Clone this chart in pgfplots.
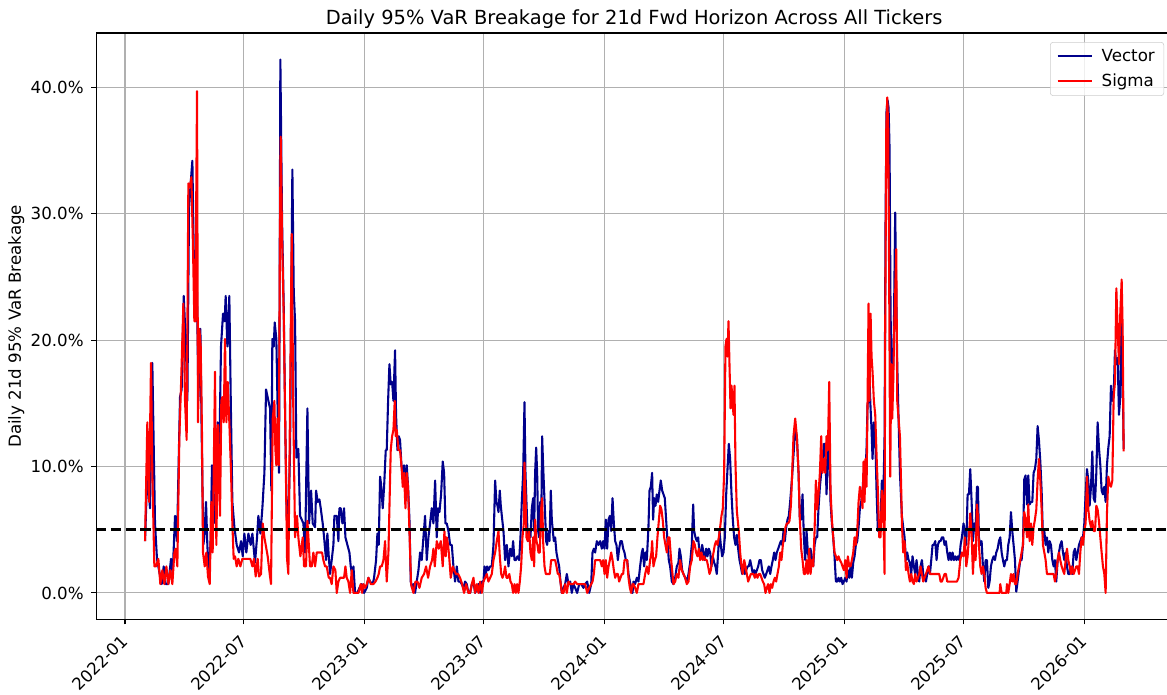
\documentclass[border=0pt]{standalone}
\usepackage{fontspec}
\setmainfont{DejaVu Sans}
\usepackage{pgfplots}
\pgfplotsset{compat=1.18}
\definecolor{gridgray}{RGB}{176,176,176}
\definecolor{vecblue}{RGB}{0,0,139}
\definecolor{leggray}{RGB}{204,204,204}
\begin{document}
\begin{tikzpicture}
\begin{axis}[
 name=main,
 scale only axis,
 width=774.8pt, height=422.3pt,
 xmin=-44, xmax=1595,
 ymin=-2.11, ymax=44.3,
 xtick={0,181,365,546,730,912,1096,1277,1461},
 xticklabels={2022-01,2022-07,2023-01,2023-07,2024-01,2024-07,2025-01,2025-07,2026-01},
 ytick={0,10,20,30,40},
 yticklabels={0.0\%,10.0\%,20.0\%,30.0\%,40.0\%},
 grid=major,
 major grid style={gridgray, line width=0.8pt},
 axis line style={line width=0.8pt},
 tick align=outside, tick pos=left,
 major tick length=3.5pt,
 every tick/.style={black, line width=0.8pt},
 tick label style={font=\fontsize{12}{14}\selectfont},
 xticklabel style={xshift=-3.5pt, yshift=-6.5pt, rotate=45, anchor=north east, inner sep=0pt},
 yticklabel style={xshift=-5.3pt, anchor=east, inner sep=0pt},
 title={Daily 95\% VaR Breakage for 21d Fwd Horizon Across All Tickers},
 title style={font=\fontsize{14}{17}\selectfont, at={(axis description cs:0.5,1)}, anchor=base},
 ylabel={Daily 21d 95\% VaR Breakage},
 every axis y label/.style={at={(axis description cs:-0.0743,0.5)}, rotate=90, anchor=center, font=\fontsize{12}{14}\selectfont},
 legend style={at={(axis description cs:0.9924,0.9847)}, anchor=north east, draw=leggray, fill=white, fill opacity=0.8, text opacity=1, rounded corners=2pt, font=\fontsize{12}{14}\selectfont, inner xsep=4.5pt, inner ysep=3pt, row sep=3.5pt},
 legend cell align=left,
 legend image code/.code={\draw[#1, line width=1.5pt] (0pt,0pt) -- (25pt,0pt); \path (29pt,0pt);},
]
\addplot[vecblue, line width=1.5pt, line join=round] coordinates {
(30.5,4.1)(34.0,9.5)(38.1,6.7)(41.6,18.2)(45.7,5.5)(48.7,2.7)(51.8,1.8)(55.9,0.7)(58.9,2.1)(62.0,0.7)(66.0,0.7)(70.1,2.7)(72.6,1.5)(76.2,6.1)(79.2,4.1)(83.8,15.5)(86.3,16.1)(89.4,23.5)(92.4,20.1)(95.0,15.2)(97.5,30.4)(100.0,32.4)(102.6,34.2)(104.6,27.2)(107.6,21.5)(109.7,23.8)(111.7,15.2)(114.8,20.9)(116.8,12.4)(119.3,3.8)(120.8,4.4)(123.4,7.2)(125.4,3.8)(128.0,1.2)(130.5,4.4)(132.5,10.1)(135.1,5.5)(138.1,8.4)(141.2,13.5)(143.2,9.5)(146.2,19.5)(149.3,22.1)(151.8,21.5)(153.3,23.5)(155.9,19.5)(158.9,23.5)(161.0,15.5)(163.5,7.2)(166.6,5.2)(170.1,3.8)(173.7,3.2)(176.7,4.1)(179.3,2.9)(181.8,4.7)(184.8,3.2)(187.9,4.7)(191.4,3.8)(194.0,4.7)(198.0,2.4)(201.1,4.4)(203.1,6.1)(206.2,4.7)(209.2,6.7)(212.3,9.5)(214.8,16.1)(218.4,15.2)(220.9,14.6)(222.9,8.1)(224.4,20.1)(226.5,19.5)(228.0,21.4)(230.5,20.1)(232.6,14.1)(234.6,9.5)(236.6,42.2)(239.2,29.5)(241.7,22.7)(244.3,12.4)(246.3,6.1)(248.8,5.2)(251.4,11.4)(252.9,21.5)(254.9,33.5)(257.0,23.8)(259.0,21.5)(261.0,10.7)(264.0,11.4)(266.6,6.1)
(271.7,5.5)(274.2,3.2)(277.8,14.6)(280.3,5.5)(283.4,8.1)(285.9,5.5)(289.5,5.2)(291.0,8.1)(293.5,7.2)(296.1,7.4)(298.1,6.7)(301.1,5.5)(303.2,4.4)(306.2,2.6)(308.2,4.7)(310.3,2.9)(312.3,1.5)(314.8,2.6)(317.4,3.8)(318.9,6.1)(322.5,6.1)(325.0,4.1)(326.5,6.7)(328.5,6.7)(331.1,5.5)(333.6,6.7)(335.7,4.4)(338.7,3.8)(341.8,3.2)(343.8,2.1)(345.8,1.5)(347.9,2.1)(350.4,0)(353.9,0)(357.0,0.4)(360.5,0.7)(364.1,0)(368.2,0.4)(370.7,1.2)(373.2,0.9)(377.3,0.7)(379.3,1.2)(382.4,2.6)(384.4,4.7)(386.4,3.8)(388.5,9.2)(390.0,8.6)(392.5,6.7)(394.6,8.4)(397.1,11.3)(398.6,11.3)(400.7,15.2)(402.7,18.1)(404.7,16.5)(406.8,16.7)(408.8,15.2)(411.3,19.2)(412.8,14.1)(414.9,11.3)(416.9,12.4)(418.9,12.1)(421.0,10.1)(423.0,9.5)(425.0,10.1)(427.1,8.4)(429.1,10.1)(431.1,8.4)(433.2,5.8)(435.2,0.9)(437.2,0.4)(439.2,0.7)(441.8,0)(444.3,0.9)(446.9,1.8)(449.4,3.2)(451.9,2.6)(454.5,4.4)(457.0,6.1)(459.6,2.6)(462.1,4.4)(464.6,5.5)(467.2,6.7)(469.7,5.5)(472.3,8.9)(474.8,4.4)(476.8,6.7)(478.9,6.4)(481.4,7.8)(483.9,10.4)(486.0,9.5)(488.0,5.5)(490.0,5.5)(492.6,4.9)(495.1,3.8)(497.7,3.8)(500.2,2.1)(502.7,0.9)(505.3,2.1)(507.8,0.9)(510.3,0.9)(512.9,0.7)(515.4,0.4)(518.0,0.9)(520.5,0.7)(523.0,0)
(525.6,0)(528.2,0.7)(530.7,0.9)(533.2,0)(535.8,0.4)(538.3,0.7)(540.9,0)(543.4,0.9)(545.9,0.9)(547.5,2.1)(549.5,1.5)(551.5,2.1)(553.5,1.8)(556.1,2.1)(558.6,2.1)(561.2,3.8)(563.7,8.9)(565.7,7.2)(567.3,6.9)(568.8,6.4)(570.8,8.1)(572.3,6.9)(573.9,6.1)(576.4,4.9)(578.9,2.6)(581.5,3.8)(584.0,2.1)(586.6,3.5)(589.1,2.9)(591.1,4.1)(593.2,2.6)(595.2,2.6)(597.7,2.9)(600.3,2.6)(602.3,4.4)(604.3,7.2)(606.4,9.5)(608.4,15.1)(609.9,9.5)(611.4,7.2)(613.5,4.1)(615.5,4.9)(617.5,4.4)(619.6,6.7)(621.6,7.5)(623.1,4.9)(624.6,9.5)(626.2,11.5)(627.7,9.5)(629.2,4.9)(630.7,4.4)(632.3,7.2)(633.8,4.9)(635.3,12.4)(636.8,10.1)(638.3,8.1)(639.9,6.1)(641.4,4.1)(642.9,3.8)(645.0,4.9)(646.5,4.1)(648.5,8.1)(650.0,5.8)(651.6,4.9)(653.1,4.1)(655.1,4.4)(657.1,3.2)(659.2,2.6)(661.2,2.1)(663.2,0.9)(665.3,0)(667.8,0.4)(670.3,0.7)(672.9,1.5)(675.4,0.7)(678.0,0.9)(680.5,0)(683.0,0.7)(685.6,0.4)(688.6,0)(691.7,0.7)(694.7,0.7)(698.3,0.4)(700.8,0.7)(703.9,0.9)(706.9,0)(710.0,0.7)(712.0,3.2)(714.0,3.5)(716.0,3.2)(718.6,4.1)(721.1,3.8)(723.7,4.1)(726.2,3.5)(728.2,4.1)(730.3,3.5)(732.3,5.8)(734.3,3.5)(736.4,5.8)(738.4,6.1)(740.4,4.9)(742.5,7.5)(744.5,5.5)(746.5,4.1)(748.5,3.8)(750.6,2.6)(752.6,3.5)(754.6,4.1)(756.7,4.1)(758.7,3.5)(760.7,3.2)(762.8,2.6)(764.8,2.6)(766.8,1.5)(768.9,0.9)(770.9,0.4)(772.9,0)
(774.4,0.9)(776.9,0.7)(779.5,1.2)(782.0,0.9)(784.5,2.1)(787.1,3.2)(788.6,3.5)(790.6,2.1)(792.7,3.2)(794.7,2.6)(797.2,5.2)(798.8,8.1)(800.8,8.4)(802.8,9.5)(804.3,5.8)(805.9,7.5)(807.9,6.9)(809.9,7.8)(812.0,7.2)(814.0,8.1)(816.0,8.9)(818.1,8.1)(820.1,7.8)(822.1,7.5)(824.1,5.8)(826.2,4.1)(828.2,2.6)(830.2,2.1)(832.8,0.9)(835.3,0.7)(837.9,1.2)(840.4,2.1)(842.9,2.4)(844.5,3.5)(846.5,2.9)(848.5,1.8)(850.5,1.5)(853.1,1.2)(855.6,0.9)(858.2,1.5)(860.7,2.4)(863.2,3.8)(865.3,7.0)(866.8,4.9)(868.8,4.4)(870.9,4.1)(872.9,4.4)(874.9,3.2)(876.9,2.9)(879.0,3.8)(881.0,3.2)(883.0,2.6)(885.1,3.5)(887.1,2.9)(889.1,3.5)(891.2,3.2)(893.2,2.1)(895.2,2.9)(897.3,2.4)(899.3,2.1)(901.3,1.5)(903.4,3.2)(905.4,4.9)(907.4,3.8)(909.4,2.9)(911.5,3.2)(913.5,4.4)(915.6,7.8)(917.6,9.8)(919.6,11.8)(921.6,10.6)(923.7,7.8)(925.7,5.8)(927.7,4.4)(929.8,3.8)(931.8,4.6)(933.8,3.5)(935.9,2.6)(937.9,2.1)(939.9,1.5)(942.0,2.1)(944.0,1.5)(946.0,1.8)(948.1,2.1)(950.1,2.1)(952.1,2.6)(954.1,2.1)(956.2,1.5)(958.2,1.8)(960.2,1.5)(962.3,1.8)(964.3,2.1)(966.3,2.6)(968.4,2.6)(970.4,1.8)(972.4,1.5)(974.5,1.2)(976.5,1.5)(978.5,1.8)(980.5,2.1)(982.6,1.5)(984.6,2.1)(986.6,2.6)(988.7,3.2)(990.7,2.6)(992.7,3.2)(994.8,3.5)(996.8,3.8)(998.8,4.1)(1000.9,3.8)(1002.9,4.9)(1004.9,4.1)(1007.0,5.2)(1009.0,5.8)(1011.0,6.1)(1013.0,7.2)(1015.6,8.9)(1018.1,10.9)(1020.7,12.9)
(1023.2,12.4)(1025.8,9.5)(1027.8,5.8)(1029.8,5.8)(1031.9,7.8)(1033.9,4.4)(1035.9,2.6)(1038.0,4.9)(1040.0,3.2)(1042.0,2.6)(1044.1,3.5)(1046.1,2.6)(1048.1,2.1)(1050.2,3.8)(1052.2,4.4)(1054.2,4.4)(1056.2,6.7)(1058.3,8.4)(1060.3,9.5)(1062.3,10.1)(1064.4,11.8)(1066.4,11.8)(1068.4,7.8)(1070.5,10.7)(1072.5,12.4)(1074.5,7.2)(1076.6,5.5)(1078.6,4.4)(1080.6,2.9)(1082.7,0.9)(1084.7,0.9)(1086.7,1.2)(1088.7,0.9)(1090.8,1.2)(1092.8,0.7)(1094.8,0.9)(1096.9,1.2)(1098.9,0.9)(1100.9,1.8)(1103.0,1.2)(1105.0,2.1)(1107.0,1.2)(1109.1,2.4)(1111.1,2.9)(1113.1,3.8)(1115.2,4.1)(1117.2,5.2)(1119.2,6.7)(1121.2,7.2)(1123.3,8.1)(1124.8,9.5)(1126.3,8.4)(1127.8,9.5)(1129.4,11.5)(1130.9,14.9)(1132.4,15.2)(1133.9,16.7)(1135.5,14.6)(1137.0,12.9)(1138.5,10.6)(1140.5,13.5)(1142.6,12.4)(1144.6,8.1)(1146.6,4.9)(1148.7,4.9)(1150.7,5.7)(1152.7,8.9)(1154.8,7.2)(1156.8,12.4)(1158.3,29.5)(1159.8,38.1)(1161.4,39.0)(1162.9,38.4)(1164.4,35.2)(1165.9,22.4)(1167.5,16.7)(1169.0,15.2)(1171.0,20.9)(1173.0,30.1)(1174.6,23.8)(1176.1,18.1)(1178.1,13.8)(1180.2,9.5)(1182.2,7.2)(1183.2,6.1)(1185.2,5.2)(1187.3,4.4)(1189.3,2.6)(1191.3,3.2)(1193.4,2.6)(1195.4,2.4)(1197.4,1.5)(1199.4,2.9)(1201.5,2.1)(1203.5,1.5)(1205.5,2.6)(1207.6,1.5)(1209.6,0.9)(1211.6,2.1)(1213.7,2.6)(1215.7,1.5)(1217.7,1.2)(1219.8,0.9)(1221.8,1.5)(1223.8,2.1)(1225.9,1.5)(1227.9,2.6)(1229.9,3.8)(1231.9,3.8)(1234.0,4.1)(1236.0,2.6)(1238.0,3.8)(1240.1,4.1)(1242.1,4.1)(1244.1,4.4)(1246.2,4.4)(1248.2,3.8)(1250.2,4.1)(1252.3,3.2)(1254.3,2.6)(1256.3,3.2)(1258.4,2.6)(1260.4,3.2)(1262.4,2.6)(1264.5,2.9)(1266.5,2.6)(1268.5,2.9)(1270.5,2.6)(1272.6,3.8)(1274.6,4.4)(1277.1,5.5)
(1281.2,3.8)(1283.3,7.8)(1285.3,7.8)(1287.3,9.8)(1289.4,7.2)(1291.4,4.1)(1293.4,5.5)(1295.5,4.9)(1297.5,8.4)(1299.0,8.4)(1300.5,4.4)(1302.6,3.8)(1304.6,4.1)(1306.6,2.1)(1308.7,0.9)(1310.7,2.6)(1312.7,2.6)(1314.8,0.4)(1316.8,0.9)(1318.8,2.1)(1320.8,2.6)(1322.9,2.9)(1324.9,2.6)(1326.9,3.2)(1329.0,3.5)(1331.0,4.1)(1333.0,4.4)(1335.1,3.2)(1337.1,2.6)(1339.1,2.1)(1341.2,2.6)(1343.2,2.6)(1345.2,3.8)(1347.3,4.4)(1349.3,6.4)(1351.3,4.9)(1353.3,3.8)(1355.4,2.6)(1357.4,0.1)(1359.4,0.9)(1361.5,1.8)(1363.5,2.6)(1365.5,2.6)(1367.6,3.8)(1369.6,9.0)(1371.6,9.3)(1373.7,7.0)(1375.7,9.3)(1377.7,7.0)(1379.8,7.2)(1381.8,7.2)(1383.8,9.5)(1385.8,9.8)(1387.9,10.6)(1389.9,13.2)(1391.9,12.1)(1394.0,10.4)(1396.0,8.1)(1398.0,4.4)(1400.1,4.9)(1402.1,3.8)(1404.1,4.4)(1406.2,3.2)(1408.2,4.1)(1410.2,3.8)(1412.3,2.6)(1414.3,2.1)(1416.3,2.6)(1418.3,0.9)(1420.4,2.6)(1422.4,3.2)(1424.4,3.8)(1426.5,4.1)(1428.5,3.2)(1430.5,2.6)(1432.6,3.2)(1434.6,2.1)(1436.6,1.5)(1438.7,1.5)(1440.7,2.1)(1442.7,1.5)(1444.8,3.2)(1446.8,3.5)(1448.8,2.6)(1450.9,3.2)(1452.9,3.8)(1454.9,4.1)(1456.9,4.4)(1459.0,4.4)(1461.0,5.5)(1463.0,7.8)(1465.1,9.8)(1467.1,8.9)(1469.1,6.9)(1471.2,8.4)(1473.2,11.2)(1475.2,7.5)(1477.3,7.2)(1479.3,9.5)(1481.3,13.5)(1483.3,11.5)(1485.4,10.1)(1487.4,8.1)(1489.4,7.8)(1491.5,8.4)(1493.5,7.2)(1495.5,10.1)(1497.6,11.5)(1499.6,12.4)(1501.6,16.4)(1503.7,15.2)(1505.7,15.5)(1507.7,19.2)(1509.8,18.1)(1511.8,18.6)(1513.8,14.1)(1515.8,15.5)(1517.9,22.7)(1519.4,18.1)(1520.9,11.4)
};
\addlegendentry{Vector}
\addplot[red, line width=1.5pt, line join=round] coordinates {
(30.5,4.1)(34.0,13.5)(36.6,7.2)(39.6,18.2)(41.6,9.5)(44.7,2.1)(47.2,2.1)(50.8,2.7)(53.8,0.7)(56.9,1.8)(59.9,0.7)(63.0,2.1)(66.0,0.7)(69.1,1.8)(72.1,0.7)(75.2,3.2)(77.2,3.5)(79.7,2.1)(82.8,12.4)(85.3,16.4)(88.9,22.9)(91.4,15.2)(93.9,12.1)(96.5,32.4)(99.0,32.1)(101.1,32.9)(103.6,27.2)(105.6,21.5)(107.1,21.5)(109.7,39.7)(111.2,13.5)(113.2,20.9)(115.3,19.5)(117.3,12.4)(118.8,3.2)(121.4,2.1)(123.9,3.2)(126.4,1.3)(129.0,0.7)(131.5,7.2)(133.5,3.2)(137.1,17.5)(139.1,3.8)(141.7,13.3)(144.7,6.1)(146.7,15.2)(148.3,15.5)(150.3,13.5)(152.3,20.1)(154.4,13.5)(156.4,16.7)(158.9,13.5)(161.5,9.5)(163.5,5.5)(165.5,2.7)(167.6,2.9)(170.1,2.1)(172.6,2.7)(175.7,2.1)(178.7,2.7)(182.8,2.7)(186.9,2.7)(190.9,2.7)(194.0,2.1)(196.5,2.7)(199.0,1.3)(202.1,2.7)(204.1,1.3)(207.2,1.5)(209.7,5.5)(212.3,4.4)(214.3,3.8)(217.3,2.9)(220.4,1.5)(222.4,0.7)(225.0,13.8)(227.5,15.2)(229.0,11.4)(230.5,10.1)(232.1,13.8)(234.1,10.1)(236.1,29.5)(237.1,36.1)(239.2,28.1)(241.7,22.1)(244.3,12.4)(246.8,2.7)(248.8,1.5)(251.4,15.2)(253.9,28.4)(256.4,14.1)(259.0,4.4)(262.0,6.1)(264.0,4.4)(267.1,2.9)
(270.7,4.4)(272.7,2.1)(275.7,2.1)(277.8,5.7)(279.3,4.4)(281.8,2.1)(284.4,2.1)(286.9,3.2)(289.5,2.1)(292.0,3.2)(294.5,3.2)(297.1,3.2)(300.1,3.2)(302.1,2.6)(304.7,2.1)(307.2,2.1)(310.3,1.2)(312.3,1.2)(314.8,0.7)(317.4,2.1)(320.4,1.8)(322.5,0)(325.0,0.9)(327.5,1.2)(330.6,1.2)(333.6,1.2)(335.7,2.1)(337.7,1.2)(340.2,0.9)(342.8,0)(345.3,1.8)(347.9,0)(351.9,0)(355.5,0)(359.0,0.7)(361.1,0)(363.1,0.7)(365.6,0.4)(368.2,0.7)(370.7,1.2)(374.3,0.7)(378.3,0.7)(381.4,0.9)(384.4,1.2)(386.4,1.5)(388.5,2.1)(391.0,2.1)(393.6,2.6)(396.1,4.1)(398.6,0.9)(401.2,3.2)(402.7,6.7)(404.7,11.3)(406.8,12.4)(408.8,12.9)(410.8,15.2)(412.3,12.4)(413.9,12.9)(416.4,11.3)(418.9,11.3)(421.0,10.1)(423.0,8.4)(425.0,9.5)(427.1,6.7)(429.1,9.5)(431.1,8.4)(433.2,4.9)(435.7,0.7)(439.2,0)(442.3,0.9)(445.4,0.9)(448.4,0.4)(451.9,1.2)(455.5,1.5)(458.5,2.1)(461.6,1.2)(464.6,2.1)(467.7,2.6)(469.7,3.5)(471.8,2.1)(474.8,4.1)(477.8,3.5)(480.9,4.1)(483.9,2.1)(486.5,4.9)(488.5,2.9)(490.0,4.4)(492.1,3.8)(494.1,2.6)(496.1,1.2)(499.2,2.1)(501.2,1.8)(504.3,1.5)(507.3,1.5)(510.3,1.2)(513.4,0.7)(516.4,0)(519.5,0.7)(523.0,0)
(525.6,0)(528.2,0.7)(530.7,1.2)(533.2,0)(535.8,0.7)(538.3,0)(540.9,0.9)(543.4,0)(545.9,0.9)(548.5,1.2)(551.0,1.5)(553.5,0.9)(556.1,1.2)(558.6,1.5)(561.2,2.6)(563.7,3.2)(566.2,4.1)(568.8,4.9)(570.8,2.9)(572.9,1.5)(574.9,1.2)(576.9,1.5)(578.9,2.1)(581.0,1.2)(583.0,1.2)(585.3,1.5)(587.1,0.9)(589.1,0.7)(591.1,0)(593.2,0.7)(595.2,0)(597.2,0.7)(599.2,0)(601.3,0.9)(603.3,2.1)(605.3,4.4)(607.4,5.5)(608.4,10.3)(609.9,7.8)(611.4,4.4)(613.5,4.1)(615.5,4.9)(617.5,3.2)(619.6,2.6)(621.6,4.4)(623.1,2.1)(624.6,5.8)(626.7,4.1)(628.2,3.8)(629.7,3.2)(631.7,3.2)(633.8,6.7)(635.3,7.5)(636.8,4.1)(638.9,2.1)(640.9,1.5)(642.9,1.5)(645.0,1.5)(647.0,1.5)(649.0,2.6)(651.0,2.6)(653.1,2.6)(655.1,2.6)(657.1,2.1)(659.2,1.5)(661.2,1.5)(663.2,0.9)(665.3,0)(667.8,0)(670.3,0.7)(672.9,0)(675.4,0.9)(678.0,0.7)(680.5,0.7)(683.0,0.7)(685.6,0.9)(688.6,0.7)(691.7,0.7)(694.7,0.7)(698.3,0.7)(700.8,0.7)(703.9,0)(706.9,0.4)(710.0,0.7)(712.0,0.9)(714.0,1.5)(716.0,2.6)(718.6,2.6)(721.1,2.6)(723.7,2.6)(726.2,2.1)(728.2,2.6)(730.3,1.5)(732.3,2.6)(734.3,1.2)(736.4,2.1)(738.4,2.6)(740.4,3.2)(742.5,2.6)(744.5,1.8)(746.5,1.2)(748.5,1.5)(750.6,1.5)(752.6,0.9)(754.6,1.2)(756.7,1.5)(758.7,1.5)(760.7,2.6)(762.8,2.6)(764.8,2.6)(766.8,1.2)(768.9,0.4)(770.9,0)(772.9,0.7)
(774.4,0.7)(776.9,0.4)(779.5,0)(782.0,0.7)(784.5,0.7)(787.1,0.7)(789.6,0.7)(792.2,1.5)(794.7,2.1)(797.2,1.5)(799.8,2.6)(801.8,3.2)(802.8,4.1)(804.8,2.1)(806.9,2.6)(808.9,2.9)(810.9,4.4)(813.0,5.7)(815.0,6.9)(817.0,6.6)(819.1,5.7)(821.1,4.4)(823.1,3.8)(825.2,3.2)(827.2,4.4)(829.2,4.4)(831.3,2.9)(833.3,1.8)(835.3,0.7)(837.9,0.9)(840.4,1.5)(842.9,1.2)(845.5,2.6)(848.0,1.8)(850.5,1.5)(853.1,1.2)(855.6,0.7)(858.2,0.9)(860.7,2.1)(863.2,2.6)(865.8,4.1)(867.8,3.8)(869.8,3.2)(871.9,2.9)(873.9,3.5)(875.9,2.6)(878.0,3.2)(880.0,2.6)(882.0,2.9)(884.1,2.6)(886.1,2.6)(888.1,2.1)(890.2,1.5)(892.2,1.8)(894.2,2.6)(896.3,3.2)(898.3,3.8)(900.3,4.1)(902.3,3.8)(904.4,4.4)(906.4,5.2)(908.4,6.1)(910.5,6.7)(912.5,9.5)(914.5,19.5)(916.1,20.1)(917.6,18.7)(919.1,21.5)(920.6,18.1)(922.2,14.6)(923.7,16.4)(925.2,15.2)(926.7,14.1)(928.2,16.4)(929.8,10.1)(931.8,6.5)(933.3,5.7)(934.8,4.9)(936.9,3.2)(938.9,2.1)(940.9,1.5)(943.0,2.6)(945.0,2.1)(947.0,1.5)(949.1,0.9)(951.1,1.2)(953.1,1.5)(955.2,1.5)(957.2,1.5)(959.2,1.2)(961.3,1.5)(963.3,1.2)(965.3,1.5)(967.3,1.5)(969.4,1.2)(971.4,0.9)(973.4,0.7)(975.5,0)(977.5,0.4)(979.5,0.7)(981.6,0)(983.6,0.7)(985.6,0.4)(987.7,0.9)(989.7,1.2)(991.7,0.9)(993.7,1.5)(995.8,2.1)(997.8,3.2)(999.8,2.6)(1001.9,3.8)(1003.9,4.4)(1005.9,5.2)(1008.0,5.5)(1010.0,5.5)(1012.0,5.7)(1014.1,6.9)(1016.1,9.5)(1018.1,12.4)(1020.7,13.8)
(1023.2,12.4)(1025.8,9.5)(1027.8,5.8)(1029.8,3.5)(1031.9,2.6)(1033.9,1.5)(1035.9,1.5)(1038.0,2.6)(1040.0,1.5)(1042.0,3.5)(1044.1,1.5)(1046.1,2.6)(1048.1,2.1)(1050.2,4.9)(1052.2,8.9)(1054.2,6.6)(1056.2,7.8)(1058.3,9.5)(1060.3,12.4)(1062.3,9.5)(1064.4,10.6)(1066.4,9.5)(1068.4,12.4)(1070.5,11.3)(1072.5,16.7)(1074.5,8.1)(1076.6,5.8)(1078.6,4.4)(1080.6,3.2)(1082.7,2.9)(1084.7,2.6)(1086.7,2.9)(1088.7,2.6)(1090.8,2.4)(1092.8,2.1)(1094.8,1.8)(1096.9,2.6)(1098.9,1.2)(1100.9,2.9)(1103.0,2.1)(1105.0,2.1)(1107.0,2.6)(1109.1,3.2)(1111.1,4.4)(1113.1,3.8)(1115.2,4.9)(1117.2,7.2)(1119.2,8.4)(1121.2,7.8)(1123.3,6.7)(1124.8,10.4)(1126.3,7.2)(1127.8,10.6)(1129.4,8.4)(1130.9,15.2)(1132.4,22.9)(1133.9,15.2)(1135.5,22.1)(1137.0,18.7)(1138.5,17.5)(1140.5,15.2)(1142.6,14.1)(1144.6,10.9)(1146.6,8.1)(1148.7,4.4)(1150.7,4.4)(1152.7,8.1)(1154.8,6.7)(1156.8,1.5)(1157.8,21.0)(1159.4,36.7)(1160.9,39.2)(1162.4,36.7)(1163.9,23.8)(1165.4,9.2)(1167.0,18.1)(1168.5,13.8)(1170.0,16.7)(1171.5,20.9)(1173.0,23.8)(1174.6,27.2)(1176.1,15.2)(1178.1,13.8)(1180.2,12.4)(1182.2,8.1)(1183.2,5.5)(1185.2,3.2)(1187.3,4.1)(1189.3,1.8)(1191.3,2.4)(1193.4,1.5)(1195.4,0.9)(1197.4,1.5)(1199.4,0.9)(1201.5,0.7)(1203.5,1.5)(1205.5,0.9)(1207.6,1.2)(1209.6,1.5)(1211.6,2.1)(1213.7,1.5)(1215.7,0.9)(1217.7,1.2)(1219.8,1.5)(1221.8,1.8)(1223.8,2.1)(1225.9,1.5)(1227.9,1.5)(1229.9,1.5)(1231.9,1.5)(1234.0,1.5)(1236.0,1.5)(1238.0,1.5)(1240.1,1.5)(1242.1,0.9)(1244.1,0.9)(1246.2,1.2)(1248.2,1.5)(1250.2,1.5)(1252.3,0.9)(1254.3,0.9)(1256.8,0.9)(1259.4,0.9)(1261.9,0.9)(1264.5,0.9)(1267.0,0.9)(1269.5,1.2)(1272.1,2.6)(1274.6,3.2)(1277.1,2.9)
(1279.2,4.4)(1281.2,2.1)(1283.3,2.9)(1285.3,4.4)(1287.3,6.3)(1289.4,4.6)(1291.4,1.5)(1293.4,3.8)(1295.5,2.6)(1297.5,7.0)(1299.0,6.1)(1300.5,3.8)(1302.6,2.1)(1304.6,1.5)(1306.6,2.1)(1308.7,1.5)(1310.7,0.4)(1312.7,0)(1317.8,0)(1322.9,0)(1328.0,0)(1332.0,0)(1333.0,0.7)(1335.1,0)(1339.1,0)(1342.2,0)(1343.2,0.7)(1345.2,0)(1347.3,0.7)(1349.3,1.5)(1351.3,0.9)(1353.3,1.5)(1355.4,0.7)(1357.4,0.7)(1359.4,1.5)(1361.5,2.1)(1363.5,2.6)(1365.5,3.2)(1367.6,3.8)(1369.6,6.4)(1371.6,5.8)(1373.7,4.4)(1375.7,7.0)(1377.7,4.1)(1379.8,5.5)(1381.8,3.8)(1383.8,5.2)(1385.8,5.8)(1387.9,6.6)(1389.9,8.9)(1391.9,10.6)(1394.0,8.9)(1396.0,6.6)(1398.0,3.8)(1400.1,3.2)(1402.1,2.6)(1404.1,1.5)(1406.2,1.5)(1410.2,1.5)(1414.3,1.5)(1416.3,0.9)(1418.3,1.5)(1420.4,2.6)(1422.4,3.2)(1424.4,2.6)(1426.5,2.1)(1428.5,1.8)(1430.5,1.5)(1432.6,2.6)(1434.6,3.5)(1436.6,2.6)(1438.7,2.1)(1440.7,1.5)(1442.7,2.1)(1444.8,1.5)(1446.8,1.8)(1448.8,2.1)(1450.9,2.1)(1452.9,1.5)(1454.9,3.2)(1456.9,4.4)(1459.0,3.8)(1461.0,4.9)(1463.0,5.5)(1465.1,9.2)(1467.1,6.6)(1469.1,5.7)(1471.2,5.2)(1473.2,5.7)(1475.2,4.9)(1477.3,4.9)(1479.3,6.9)(1481.3,6.6)(1483.3,5.7)(1485.4,4.4)(1487.4,3.2)(1489.4,2.1)(1491.5,1.5)(1493.5,0)(1495.5,6.3)(1497.6,9.2)(1499.6,8.6)(1501.6,8.4)(1503.7,8.9)(1505.7,15.5)(1507.7,16.7)(1509.8,24.1)(1511.8,20.9)(1513.8,18.1)(1515.8,22.1)(1517.9,24.8)(1519.4,20.9)(1520.9,11.2)
};
\addlegendentry{Sigma}
\addplot[black, line width=2pt, dash pattern=on 7.4pt off 3.2pt, forget plot] coordinates {(-44,5) (1595,5)};
\end{axis}
\pgfresetboundingbox
\useasboundingbox ([xshift=-69.2pt,yshift=-53.6pt]main.south west) rectangle ([xshift=771.0pt,yshift=23.8pt]main.north west);
\end{tikzpicture}
\end{document}
